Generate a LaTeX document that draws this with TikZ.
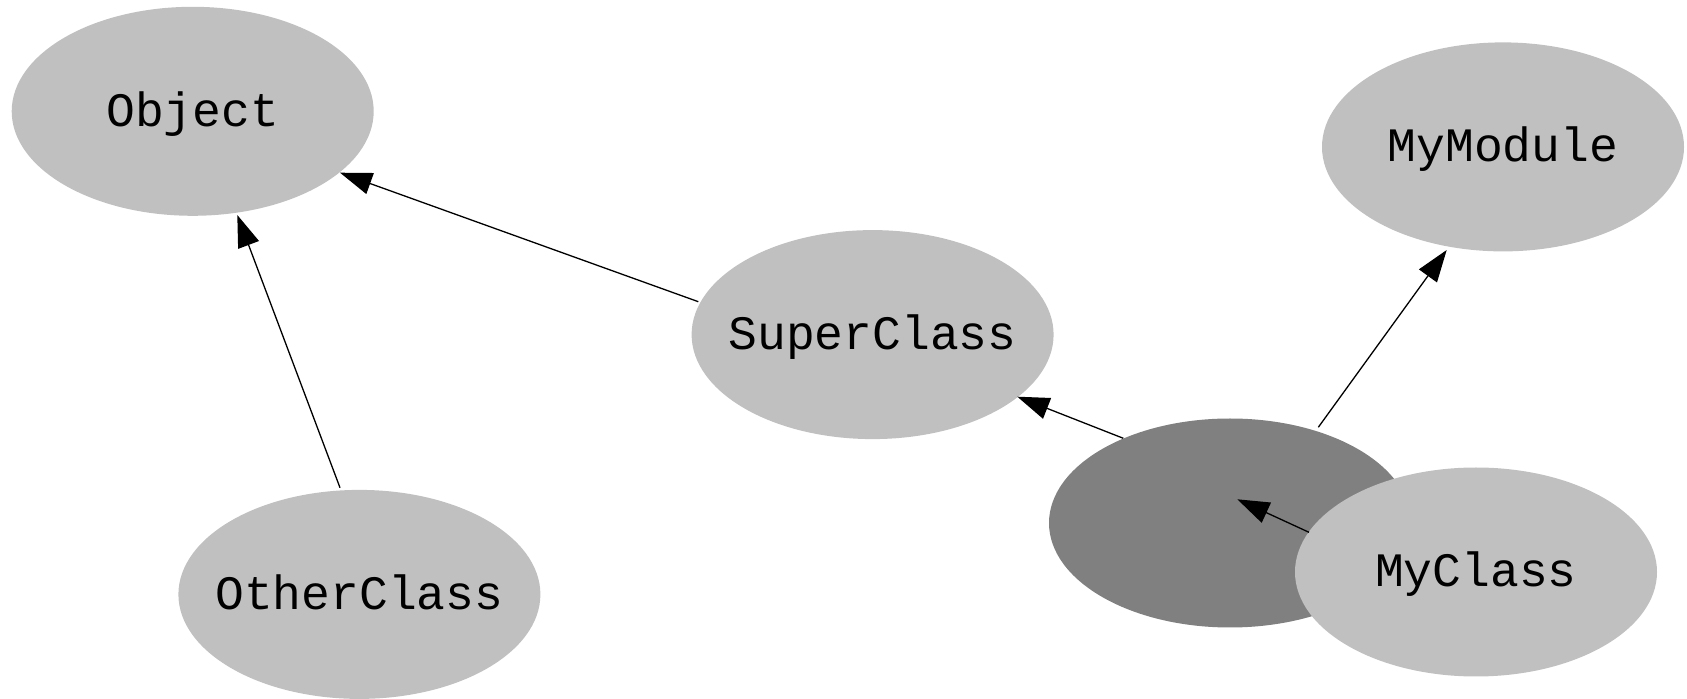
\documentclass[tikz,border=0pt]{standalone}
\usepackage{fontspec}
\setmonofont{Liberation Mono}
\usetikzlibrary{shapes.geometric,arrows.meta}
\definecolor{lightg}{HTML}{C0C0C0}
\definecolor{darkg}{HTML}{808080}
\tikzset{
  cls/.style={ellipse, fill=lightg, draw=none, inner xsep=-40pt, inner ysep=-15pt, text height=20pt, text depth=5pt, minimum width=181pt, minimum height=104.5pt, font=\ttfamily\fontsize{24}{28}\selectfont},
  anoncls/.style={cls, fill=darkg},
  inh/.style={line width=0.65pt, -{Triangle[length=16pt, width=11pt]}}
}
\begin{document}
\begin{tikzpicture}[x=0.5pt, y=-0.5pt]
\useasboundingbox (0,0) rectangle (1687,699);
\node[cls] (obj) at (192.7,111.3) {Object};
\node[cls] (mod) at (1503,146.9) {MyModule};
\node[cls] (sup) at (872.6,334.6) {SuperClass};
\node[cls] (oth) at (359.4,594.4) {OtherClass};
\node[anoncls] (anon) at (1230,523) {};
\node[cls] (my) at (1476,572) {MyClass};
\coordinate (e1s) at (698.3,301.7);
\coordinate (e1t) at (340,172.7);
\coordinate (e2s) at (340,487.7);
\coordinate (e2t) at (237.3,215);
\coordinate (e3s) at (1123.3,438.3);
\coordinate (e3t) at (1017.3,396.7);
\coordinate (e4s) at (1318.3,427.3);
\coordinate (e4t) at (1446.7,250);
\coordinate (e5s) at (1309,532.3);
\coordinate (e5t) at (1237.3,499.3);
\draw[inh] (e1s) -- (e1t);
\draw[inh] (e2s) -- (e2t);
\draw[inh] (e3s) -- (e3t);
\draw[inh] (e4s) -- (e4t);
\draw[inh] (e5s) -- (e5t);
\end{tikzpicture}
\end{document}
